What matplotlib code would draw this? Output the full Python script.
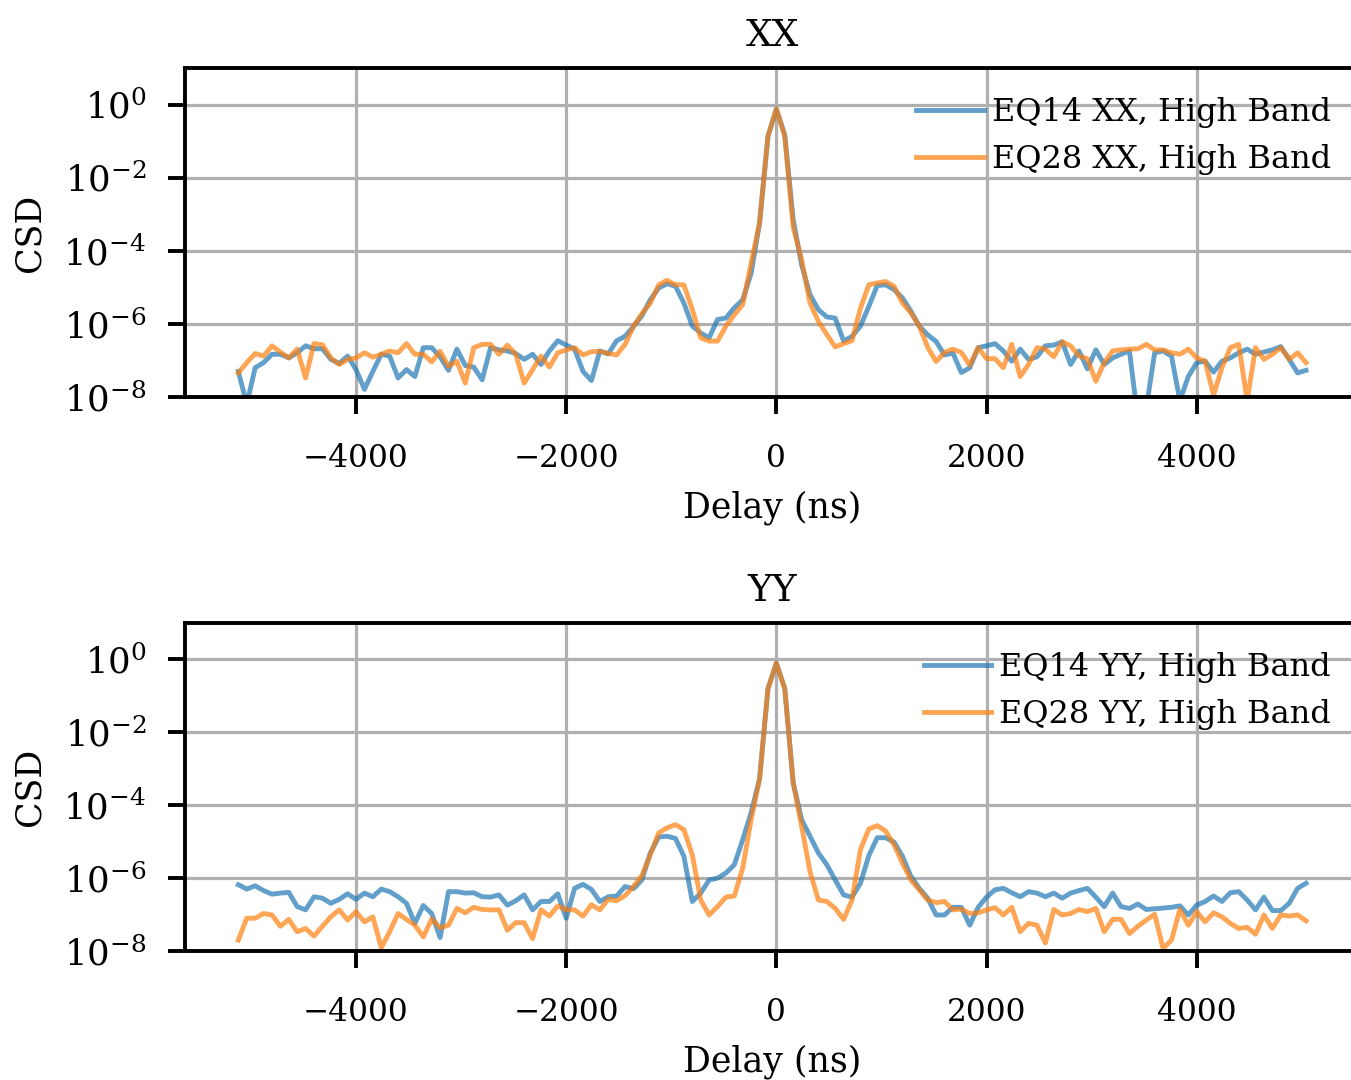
import numpy as np
import matplotlib.pyplot as plt

plt.rcParams['font.family'] = 'DejaVu Serif'
plt.rcParams['mathtext.fontset'] = 'dejavuserif'

# 128 delay bins, 80 ns apart
delay_ns = np.arange(-64, 64) * 80.0

# log10(CSD)
xx_eq14 = [-7.30, -8.20, -7.20, -7.06, -6.83, -6.83, -6.93, -6.79, -6.60, -6.68,
           -6.68, -6.97, -7.08, -6.88, -7.25, -7.79, -7.30, -6.83, -6.88, -7.48,
           -7.25, -7.44, -6.65, -6.65, -6.90, -7.27, -6.69, -7.14, -7.18, -7.53,
           -6.65, -6.71, -6.74, -6.81, -6.97, -6.83, -7.11, -6.74, -6.46, -6.58,
           -6.69, -7.30, -7.55, -6.74, -6.82, -6.46, -6.34, -6.07, -5.78, -5.34,
           -5.02, -4.90, -4.97, -5.43, -6.06, -6.25, -6.38, -5.88, -5.84, -5.56,
           -5.34, -4.61, -3.24, -0.87, -0.12, -0.83, -3.15, -4.38, -5.20, -5.61,
           -5.81, -5.84, -6.47, -6.34, -6.06, -5.52, -4.95, -4.93, -5.06, -5.29,
           -5.65, -6.06, -6.30, -6.48, -6.85, -6.80, -7.33, -7.20, -6.65, -6.60,
           -6.54, -6.74, -7.02, -6.69, -6.97, -6.90, -6.60, -6.58, -6.49, -7.11,
           -6.74, -7.23, -6.71, -7.11, -6.93, -6.83, -6.74, -8.60, -8.30, -6.79,
           -6.74, -6.88, -8.10, -7.44, -7.06, -7.02, -7.32, -7.02, -6.93, -6.79,
           -6.69, -6.83, -6.77, -6.71, -6.62, -6.97, -7.34, -7.27]

xx_eq28 = [-7.34, -7.06, -6.81, -6.88, -6.60, -6.77, -6.93, -6.69, -7.48, -6.54,
           -6.57, -6.93, -7.11, -6.97, -6.93, -6.79, -6.91, -6.83, -6.74, -6.79,
           -6.54, -6.83, -6.83, -7.04, -6.75, -7.16, -7.02, -7.62, -6.65, -6.56,
           -6.56, -6.83, -6.58, -6.83, -7.62, -7.25, -6.88, -7.18, -6.79, -6.71,
           -6.65, -6.85, -6.76, -6.75, -6.81, -6.85, -6.56, -6.07, -5.72, -5.43,
           -4.93, -4.81, -4.93, -4.93, -5.61, -6.38, -6.47, -6.47, -6.06, -5.75,
           -5.47, -4.33, -3.24, -0.87, -0.12, -0.87, -3.35, -4.24, -5.43, -5.93,
           -6.29, -6.63, -6.54, -6.46, -5.57, -4.93, -4.88, -4.84, -4.97, -5.43,
           -5.70, -6.06, -6.64, -7.03, -6.78, -6.69, -6.78, -7.13, -6.65, -6.95,
           -6.95, -7.20, -6.56, -7.44, -7.11, -6.65, -6.69, -6.90, -6.49, -6.60,
           -6.88, -6.95, -7.57, -7.06, -6.74, -6.71, -6.69, -6.68, -6.56, -6.71,
           -6.71, -6.79, -6.83, -6.69, -6.93, -7.02, -7.95, -7.20, -6.65, -6.56,
           -8.10, -6.65, -6.97, -6.83, -6.65, -6.97, -6.79, -7.06]

yy_eq14 = [-6.18, -6.30, -6.21, -6.34, -6.44, -6.41, -6.39, -6.78, -6.87, -6.51,
           -6.55, -6.69, -6.58, -6.43, -6.58, -6.41, -6.51, -6.30, -6.37, -6.51,
           -6.69, -7.24, -6.75, -6.97, -7.63, -6.37, -6.37, -6.41, -6.40, -6.51,
           -6.52, -6.46, -6.74, -6.62, -6.46, -6.87, -6.64, -6.64, -6.43, -7.10,
           -6.28, -6.17, -6.31, -6.64, -6.51, -6.49, -6.23, -6.29, -6.05, -5.31,
           -4.87, -4.85, -4.91, -5.40, -6.64, -6.41, -6.05, -6.00, -5.86, -5.63,
           -4.94, -4.20, -3.28, -0.80, -0.10, -0.80, -3.38, -4.39, -4.85, -5.31,
           -5.63, -6.05, -6.46, -6.52, -6.14, -5.38, -4.89, -4.89, -5.01, -5.40,
           -5.95, -6.28, -6.55, -7.01, -7.01, -6.80, -6.80, -7.29, -6.80, -6.52,
           -6.32, -6.28, -6.40, -6.51, -6.37, -6.41, -6.51, -6.41, -6.55, -6.41,
           -6.34, -6.28, -6.52, -6.78, -6.41, -6.78, -6.83, -6.71, -6.86, -6.84,
           -6.82, -6.80, -6.76, -7.01, -6.74, -6.64, -6.49, -6.64, -6.40, -6.37,
           -6.60, -6.87, -6.52, -6.89, -6.89, -6.69, -6.28, -6.14]

yy_eq28 = [-7.70, -7.10, -7.10, -6.97, -7.01, -7.32, -7.13, -7.47, -7.38, -7.59,
           -7.32, -7.06, -6.87, -7.15, -6.92, -7.20, -7.06, -7.91, -7.47, -6.97,
           -7.13, -7.29, -7.61, -7.12, -7.36, -7.29, -6.83, -6.95, -6.80, -6.86,
           -6.87, -6.87, -7.43, -7.22, -7.22, -7.66, -6.87, -7.04, -6.76, -6.87,
           -6.87, -7.04, -6.73, -6.87, -6.58, -6.62, -6.48, -6.23, -5.93, -5.36,
           -4.76, -4.62, -4.53, -4.67, -5.36, -6.60, -7.01, -6.78, -6.52, -6.49,
           -5.72, -4.39, -3.28, -0.80, -0.10, -0.80, -3.38, -4.57, -5.82, -6.60,
           -6.64, -6.83, -7.13, -6.60, -5.22, -4.65, -4.56, -4.71, -5.08, -5.59,
           -6.05, -6.32, -6.60, -6.67, -6.64, -6.87, -6.85, -6.97, -6.95, -6.87,
           -6.81, -7.01, -6.80, -7.47, -7.24, -7.29, -7.78, -6.86, -7.01, -6.97,
           -6.86, -6.92, -6.83, -7.47, -7.13, -7.13, -7.52, -7.32, -7.15, -6.99,
           -7.93, -7.70, -6.86, -7.29, -6.92, -7.20, -6.95, -7.06, -7.24, -7.38,
           -7.35, -7.54, -7.01, -7.38, -7.01, -7.04, -7.01, -7.17]

panels = [
    ('XX', xx_eq14, xx_eq28, [0.1369, 0.6324, 0.8693, 0.3046]),
    ('YY', yy_eq14, yy_eq28, [0.1369, 0.1194, 0.8693, 0.3037]),
]

fig = plt.figure(figsize=(13.51, 10.8), dpi=100)

for pol, eq14, eq28, pos in panels:
    ax = fig.add_axes(pos)
    ax.plot(delay_ns, 10 ** np.array(eq14), color='tab:blue', alpha=0.7, lw=3.5,
            label=f'EQ14 {pol}, High Band')
    ax.plot(delay_ns, 10 ** np.array(eq28), color='tab:orange', alpha=0.7, lw=3.5,
            label=f'EQ28 {pol}, High Band')
    ax.set_yscale('log')
    ax.set_ylim(1e-8, 1e1)
    ax.set_yticks([1e-8, 1e-6, 1e-4, 1e-2, 1e0])
    ax.yaxis.set_minor_locator(plt.NullLocator())
    ax.set_xticks([-4000, -2000, 0, 2000, 4000])
    ax.grid(True, color='#b0b0b0', lw=2.3)
    ax.set_axisbelow(True)
    for s in ax.spines.values():
        s.set_linewidth(2.8)
    ax.tick_params(length=12, width=2.8, pad=21, labelsize=22.5)
    ax.tick_params(axis='y', labelsize=25.5, pad=16)
    ax.set_title(pol, fontsize=27, pad=16)
    ax.set_xlabel('Delay (ns)', fontsize=25, labelpad=12)
    ax.set_ylabel('CSD', fontsize=25, labelpad=12)
    ax.legend(loc='upper right', frameon=False, fontsize=23,
              handlelength=2.1, handletextpad=0.25)

fig.savefig('out.png', dpi=100)
